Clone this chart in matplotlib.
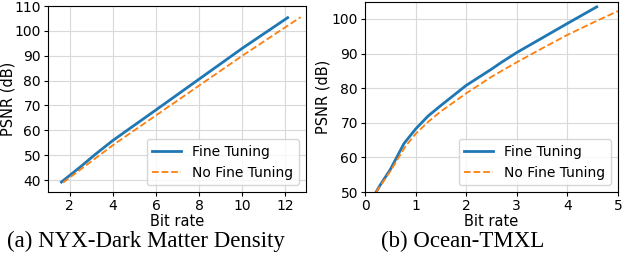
import matplotlib
matplotlib.use("Agg")
import matplotlib.pyplot as plt

# Left: NYX-Dark Matter Density
nyx_ft_x = [1.62, 2.5, 3.2, 4.0, 6.0, 8.0, 10.0, 12.1]
nyx_ft_y = [39.2, 45.3, 50.4, 55.9, 68.2, 80.6, 93.0, 105.3]
nyx_nft_x = [1.7, 2.5, 4.0, 6.0, 8.0, 10.0, 12.0, 12.7]
nyx_nft_y = [39.0, 44.2, 54.0, 66.0, 78.0, 90.0, 101.5, 105.5]

# Right: Ocean-TMXL
oc_ft_x = [0.22, 0.3, 0.5, 0.77, 1.0, 1.25, 1.5, 2.0, 2.5, 2.7, 3.0, 3.5, 4.0, 4.58]
oc_ft_y = [50.0, 52.0, 56.5, 64.0, 68.2, 72.0, 75.0, 80.8, 85.5, 87.5, 90.3, 94.5, 98.7, 103.5]
oc_nft_x = [0.22, 0.5, 0.8, 1.0, 1.25, 1.5, 2.0, 2.5, 3.0, 3.5, 4.0, 4.5, 5.0]
oc_nft_y = [50.0, 56.0, 63.2, 66.8, 70.3, 73.3, 78.5, 83.3, 87.5, 91.5, 95.4, 98.9, 102.3]

labels = ["Fine Tuning", "No Fine Tuning"]
captions = ["(a) NYX-Dark Matter Density", "(b) Ocean-TMXL"]

W, H = 622, 254
fig = plt.figure(figsize=(W / 100, H / 100), dpi=100)

def px(l, r, t, b):
    return [l / W, 1 - b / H, (r - l) / W, (b - t) / H]

ax1 = fig.add_axes(px(48, 306, 6, 192))
ax2 = fig.add_axes(px(365, 618, 2, 192))

for ax, (fx, fy, nx, ny) in [
    (ax1, (nyx_ft_x, nyx_ft_y, nyx_nft_x, nyx_nft_y)),
    (ax2, (oc_ft_x, oc_ft_y, oc_nft_x, oc_nft_y)),
]:
    ax.plot(fx, fy, color="tab:blue", lw=2, label=labels[0])
    ax.plot(nx, ny, color="tab:orange", lw=1.3, ls="--", label=labels[1])
    ax.grid(True, color="#d9d9d9", lw=0.8)
    ax.set_axisbelow(True)
    ax.set_xlabel("Bit rate", fontsize=10.5, labelpad=1)
    ax.set_ylabel("PSNR (dB)", fontsize=10.5)
    ax.tick_params(labelsize=10, length=3, pad=2)
    ax.legend(loc="lower right", fontsize=10, handlelength=2.1)

ax1.yaxis.set_label_coords(-33 / 258, 0.5)
ax2.yaxis.set_label_coords(-34 / 253, 0.5)

ax1.set_xlim(1.0, 12.95)
ax1.set_ylim(35.2, 110)
ax1.set_xticks([2, 4, 6, 8, 10, 12])
ax1.set_yticks([40, 50, 60, 70, 80, 90, 100, 110])

ax2.set_xlim(0, 5)
ax2.set_ylim(50, 104.9)
ax2.set_xticks([0, 1, 2, 3, 4, 5])
ax2.set_yticks([50, 60, 70, 80, 90, 100])

fig.text(146 / W, 1 - 241 / H, captions[0], ha="center", va="center",
         fontsize=16.5, family="Liberation Serif")
fig.text(463 / W, 1 - 241 / H, captions[1], ha="center", va="center",
         fontsize=16.5, family="Liberation Serif")

fig.savefig("out.png", dpi=100)
